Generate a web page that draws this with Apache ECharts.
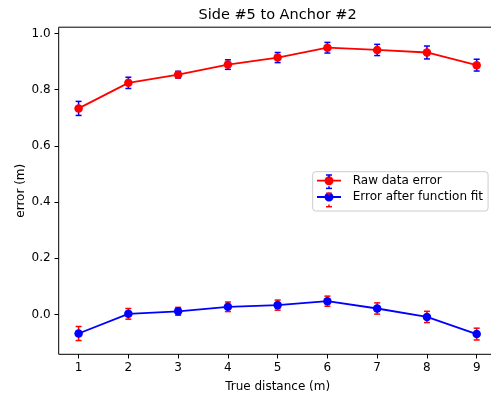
<!DOCTYPE html>
<html>
<head>
<meta charset="utf-8">
<script src="https://cdn.jsdelivr.net/npm/echarts@6/dist/echarts.min.js"></script>
<style>
  html, body { margin: 0; padding: 0; background: #fff; overflow: hidden; }
  /* plot frame runs slightly past the right edge of the view */
  #chart { width: 497px; height: 397px; }
</style>
</head>
<body>
<div id="chart"></div>
<script>
// True distance (m) for each measurement point
const distances = [1, 2, 3, 4, 5, 6, 7, 8, 9];

// Raw data error and its standard deviation
const rawError = [0.733, 0.824, 0.853, 0.889, 0.914, 0.949, 0.941, 0.932, 0.887];
const rawStd = [0.025, 0.020, 0.012, 0.017, 0.018, 0.019, 0.020, 0.023, 0.021];

// Error after function fit and its standard deviation
const fitError = [-0.068, 0.002, 0.011, 0.027, 0.033, 0.047, 0.021, -0.009, -0.070];
const fitStd = [0.025, 0.019, 0.014, 0.017, 0.018, 0.018, 0.020, 0.020, 0.021];

const yTicks = [0.0, 0.2, 0.4, 0.6, 0.8, 1.0];
const xTicks = [1, 2, 3, 4, 5, 6, 7, 8, 9];

const FONT = 'DejaVu Sans';
const RED = '#ff0000';
const BLUE = '#0000ff';

function pairs(xs, ys) { return xs.map((x, i) => [x, ys[i]]); }
function barData(xs, ys, es) { return xs.map((x, i) => [x, ys[i] - es[i], ys[i] + es[i]]); }

// vertical error bar with caps
function errorBarRenderer(color) {
  return function (params, api) {
    const lo = api.coord([api.value(0), api.value(1)]);
    const hi = api.coord([api.value(0), api.value(2)]);
    const cap = 3;
    const style = { stroke: color, lineWidth: 1.5 };
    return {
      type: 'group',
      children: [
        { type: 'line', shape: { x1: lo[0], y1: lo[1], x2: hi[0], y2: hi[1] }, style },
        { type: 'line', shape: { x1: lo[0] - cap, y1: lo[1], x2: lo[0] + cap, y2: lo[1] }, style },
        { type: 'line', shape: { x1: hi[0] - cap, y1: hi[1], x2: hi[0] + cap, y2: hi[1] }, style }
      ]
    };
  };
}

// legend handle: line with a round marker
const handleIcon = 'path://M0,6.1 L24,6.1 L24,7.9 L0,7.9 Z M12,2.5 A4.5,4.5 0 1 1 12,11.5 A4.5,4.5 0 1 1 12,2.5 Z';

const legendLeft = 312.7;
const legendTop = 171.7;
const legendPadTop = 3;
const legendPadLeft = 4.3;
const rowStep = 18.3;

// error bar pieces on the legend handles
function legendBar(row, color) {
  const cx = legendLeft + legendPadLeft + 12;
  const cy = legendTop + legendPadTop + 7 + row * rowStep;
  const style = { stroke: color, lineWidth: 1.5 };
  return [
    { type: 'line', z: 10, shape: { x1: cx, y1: cy - 6.7, x2: cx, y2: cy - 4.5 }, style },
    { type: 'line', z: 10, shape: { x1: cx, y1: cy + 4.5, x2: cx, y2: cy + 6.7 }, style },
    { type: 'line', z: 10, shape: { x1: cx - 3, y1: cy - 6.7, x2: cx + 3, y2: cy - 6.7 }, style },
    { type: 'line', z: 10, shape: { x1: cx - 3, y1: cy + 6.7, x2: cx + 3, y2: cy + 6.7 }, style }
  ];
}

const chart = echarts.init(document.getElementById('chart'), null, { renderer: 'canvas' });

chart.setOption({
  animation: false,
  backgroundColor: '#fff',
  title: {
    text: 'Side #5 to Anchor #2',
    left: 277.6,
    textAlign: 'center',
    top: 8,
    padding: 0,
    textStyle: { fontFamily: FONT, fontSize: 14.5, fontWeight: 'normal', color: '#000' }
  },
  grid: {
    left: 58.7,
    top: 27.2,
    right: 0.4,
    bottom: 42.7,
    outerBoundsMode: 'none',
    containLabel: false,
    show: true,
    borderColor: '#000',
    borderWidth: 1,
    backgroundColor: 'transparent'
  },
  legend: {
    orient: 'vertical',
    left: legendLeft,
    top: legendTop,
    padding: [legendPadTop, 5, 8, legendPadLeft],
    itemWidth: 24,
    itemHeight: 14,
    itemGap: rowStep - 14,
    backgroundColor: 'rgba(255,255,255,0.8)',
    borderColor: '#cccccc',
    borderWidth: 1,
    borderRadius: 3,
    textStyle: { fontFamily: FONT, fontSize: 12, color: '#000', padding: [0, 0, 0, 6.7] },
    data: [
      { name: 'Raw data error', icon: handleIcon, itemStyle: { color: RED } },
      { name: 'Error after function fit', icon: handleIcon, itemStyle: { color: BLUE } }
    ]
  },
  graphic: [].concat(legendBar(0, BLUE), legendBar(1, RED)),
  xAxis: {
    type: 'value',
    min: 0.6,
    max: 9.4,
    name: 'True distance (m)',
    nameLocation: 'middle',
    nameGap: 26.5,
    nameMoveOverlap: false,
    nameTextStyle: { fontFamily: FONT, fontSize: 12, color: '#000' },
    axisLine: { show: false, onZero: false },
    splitLine: { show: false },
    axisTick: {
      show: true, inside: false, length: 4.2,
      lineStyle: { color: '#000', width: 1 },
      customValues: xTicks
    },
    axisLabel: {
      fontFamily: FONT, fontSize: 12, color: '#000', margin: 7.5,
      customValues: xTicks,
      formatter: v => String(v)
    }
  },
  yAxis: {
    type: 'value',
    min: -0.142,
    max: 1.022,
    name: 'error (m)',
    nameLocation: 'middle',
    nameGap: 32,
    nameMoveOverlap: false,
    nameRotate: 90,
    nameTextStyle: { fontFamily: FONT, fontSize: 12, color: '#000' },
    axisLine: { show: false, onZero: false },
    splitLine: { show: false },
    axisTick: {
      show: true, inside: false, length: 4.2,
      lineStyle: { color: '#000', width: 1 },
      customValues: yTicks
    },
    axisLabel: {
      fontFamily: FONT, fontSize: 12, color: '#000', margin: 8,
      customValues: yTicks,
      formatter: v => v.toFixed(1)
    }
  },
  series: [
    {
      type: 'custom',
      name: 'raw-bars',
      z: 1,
      renderItem: errorBarRenderer(BLUE),
      encode: { x: 0, y: [1, 2] },
      data: barData(distances, rawError, rawStd),
      silent: true
    },
    {
      type: 'custom',
      name: 'fit-bars',
      z: 1,
      renderItem: errorBarRenderer(RED),
      encode: { x: 0, y: [1, 2] },
      data: barData(distances, fitError, fitStd),
      silent: true
    },
    {
      type: 'line',
      name: 'Raw data error',
      z: 3,
      data: pairs(distances, rawError),
      symbol: 'circle',
      symbolSize: 8.5,
      itemStyle: { color: RED },
      lineStyle: { color: RED, width: 1.8 }
    },
    {
      type: 'line',
      name: 'Error after function fit',
      z: 3,
      data: pairs(distances, fitError),
      symbol: 'circle',
      symbolSize: 8.5,
      itemStyle: { color: BLUE },
      lineStyle: { color: BLUE, width: 1.8 }
    }
  ]
});
</script>
</body>
</html>
